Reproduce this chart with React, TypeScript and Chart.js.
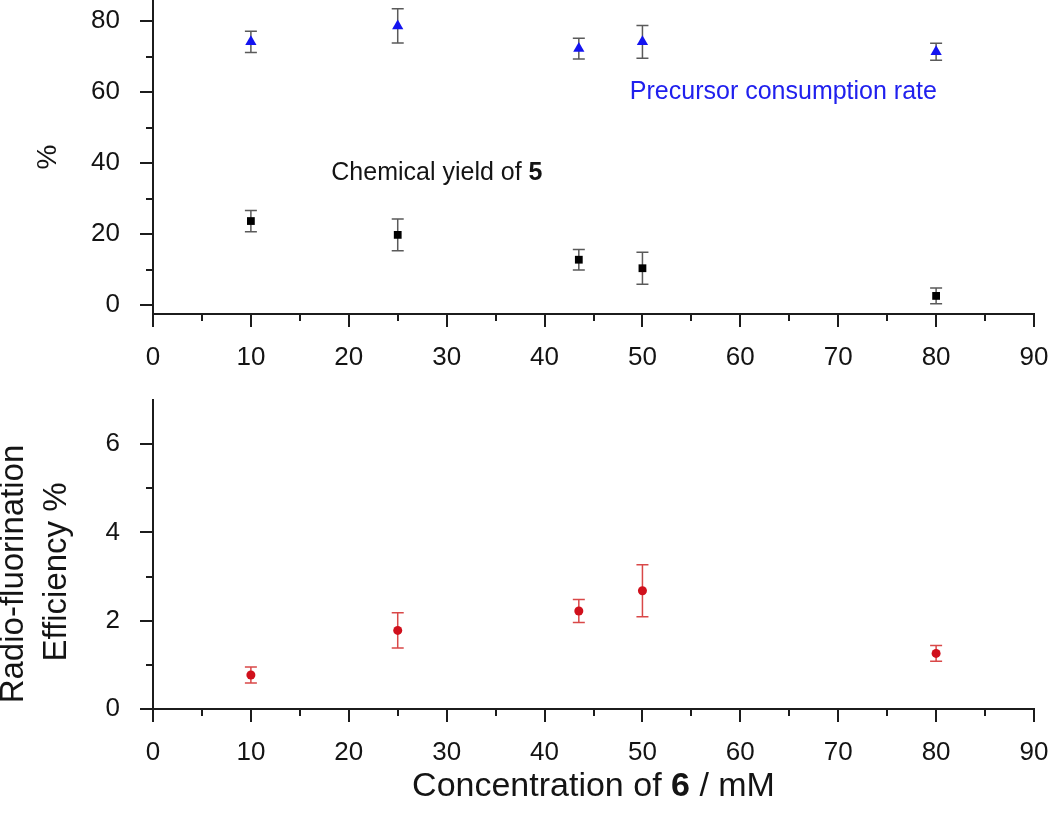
import React, { useEffect, useRef } from 'react';
import { Chart, registerables } from 'chart.js';

Chart.register(...registerables);

// ---- data ----
const concentration = [10, 25, 43.5, 50, 80];
const consumptionRate = [74.2, 78.7, 72.3, 74.2, 71.4];
const consumptionErr = [3.0, 4.8, 2.9, 4.6, 2.4];
const chemicalYield = [23.7, 19.8, 12.8, 10.4, 2.6];
const chemicalYieldErr = [3.0, 4.5, 2.9, 4.5, 2.2];
const efficiency = [0.77, 1.78, 2.22, 2.68, 1.26];
const efficiencyErr = [0.18, 0.4, 0.26, 0.59, 0.18];

const xMajorTicks = [0, 10, 20, 30, 40, 50, 60, 70, 80, 90];
const xMinorTicks = [5, 15, 25, 35, 45, 55, 65, 75, 85];
const topYMajorTicks = [0, 20, 40, 60, 80];
const topYMinorTicks = [10, 30, 50, 70];
const bottomYMajorTicks = [0, 2, 4, 6];
const bottomYMinorTicks = [1, 3, 5];

const FONT = '"Liberation Sans", Arial, Helvetica, sans-serif';
const AXIS_COLOR = '#1c1c1c';
const TEXT_COLOR = '#141414';

type Seg = { t: string; bold?: boolean };

function drawSegments(ctx: CanvasRenderingContext2D, segs: Seg[], cx: number, cy: number, size: number, color: string) {
  ctx.save();
  ctx.fillStyle = color;
  ctx.textBaseline = 'middle';
  ctx.textAlign = 'left';
  let total = 0;
  const widths = segs.map((s) => {
    ctx.font = `${s.bold ? 'bold ' : ''}${size}px ${FONT}`;
    const w = ctx.measureText(s.t).width;
    total += w;
    return w;
  });
  let x = cx - total / 2;
  segs.forEach((s, i) => {
    ctx.font = `${s.bold ? 'bold ' : ''}${size}px ${FONT}`;
    ctx.fillText(s.t, x, cy);
    x += widths[i];
  });
  ctx.restore();
}

function makeDecor(cfg: any) {
  return {
    id: 'decor',
    beforeDatasetsDraw(chart: any) {
      const ctx = chart.ctx;
      const xs = chart.scales.x;
      const ys = chart.scales.y;
      chart.data.datasets.forEach((ds: any) => {
        if (!ds.errors) return;
        ctx.save();
        ctx.strokeStyle = ds.errorColor;
        ctx.lineWidth = 1.5;
        ds.data.forEach((p: any, i: number) => {
          const e = ds.errors[i];
          const px = xs.getPixelForValue(p.x);
          const y1 = ys.getPixelForValue(p.y + e);
          const y2 = ys.getPixelForValue(p.y - e);
          ctx.beginPath();
          ctx.moveTo(px, y1);
          ctx.lineTo(px, y2);
          ctx.moveTo(px - 6, y1);
          ctx.lineTo(px + 6, y1);
          ctx.moveTo(px - 6, y2);
          ctx.lineTo(px + 6, y2);
          ctx.stroke();
        });
        ctx.restore();
      });
    },
    afterDraw(chart: any) {
      const ctx = chart.ctx;
      const xs = chart.scales.x;
      const ys = chart.scales.y;
      const area = chart.chartArea;
      ctx.save();
      ctx.strokeStyle = AXIS_COLOR;
      ctx.lineWidth = 2;
      ctx.beginPath();
      cfg.xMajor.forEach((v: number) => {
        const px = Math.round(xs.getPixelForValue(v));
        ctx.moveTo(px, area.bottom);
        ctx.lineTo(px, area.bottom + 13);
      });
      cfg.xMinor.forEach((v: number) => {
        const px = Math.round(xs.getPixelForValue(v));
        ctx.moveTo(px, area.bottom);
        ctx.lineTo(px, area.bottom + 7);
      });
      cfg.yMajor.forEach((v: number) => {
        const py = Math.round(ys.getPixelForValue(v));
        ctx.moveTo(area.left, py);
        ctx.lineTo(area.left - 13, py);
      });
      cfg.yMinor.forEach((v: number) => {
        const py = Math.round(ys.getPixelForValue(v));
        ctx.moveTo(area.left, py);
        ctx.lineTo(area.left - 7, py);
      });
      ctx.stroke();
      ctx.restore();

      // annotations in data coordinates
      (cfg.notes || []).forEach((n: any) => {
        drawSegments(ctx, n.segs, xs.getPixelForValue(n.x), ys.getPixelForValue(n.y), n.size, n.color);
      });

      // y-axis title lines (rotated)
      (cfg.yTitle || []).forEach((l: any) => {
        ctx.save();
        ctx.translate(l.x, l.y);
        ctx.rotate(-Math.PI / 2);
        ctx.font = `${l.size}px ${FONT}`;
        ctx.fillStyle = TEXT_COLOR;
        ctx.textAlign = 'center';
        ctx.textBaseline = 'middle';
        ctx.fillText(l.t, 0, 0);
        ctx.restore();
      });

      if (cfg.xTitle) {
        drawSegments(ctx, cfg.xTitle.segs, (area.left + area.right) / 2, cfg.xTitle.y, cfg.xTitle.size, TEXT_COLOR);
      }
    },
  };
}

function makeOptions(yMin: number, yMax: number, yTicks: number[], xHeight: number, topPad: number) {
  return {
    responsive: false,
    animation: false,
    devicePixelRatio: 1,
    layout: { autoPadding: false, padding: { left: 0, right: 16, top: topPad, bottom: 0 } },
    plugins: { legend: { display: false }, tooltip: { enabled: false } },
    scales: {
      x: {
        type: 'linear',
        position: 'bottom',
        min: 0,
        max: 90,
        grid: { display: false, drawTicks: false },
        border: { display: true, color: AXIS_COLOR, width: 2 },
        afterBuildTicks: (s: any) => {
          s.ticks = xMajorTicks.map((v) => ({ value: v }));
        },
        ticks: {
          padding: 28,
          autoSkip: false,
          maxRotation: 0,
          color: TEXT_COLOR,
          font: { family: FONT, size: 26 },
        },
        afterFit: (s: any) => {
          s.height = xHeight;
          s.paddingLeft = 0;
          s.paddingRight = 0;
        },
      },
      y: {
        type: 'linear',
        position: 'left',
        min: yMin,
        max: yMax,
        grid: { display: false, drawTicks: false },
        border: { display: true, color: AXIS_COLOR, width: 2 },
        afterBuildTicks: (s: any) => {
          s.ticks = yTicks.map((v) => ({ value: v }));
        },
        ticks: {
          padding: 33,
          color: TEXT_COLOR,
          font: { family: FONT, size: 26 },
        },
        afterFit: (s: any) => {
          s.width = 153;
          s.paddingTop = 0;
          s.paddingBottom = 0;
        },
      },
    },
  };
}

export default function App() {
  const topRef = useRef<HTMLCanvasElement>(null);
  const bottomRef = useRef<HTMLCanvasElement>(null);

  useEffect(() => {
    const top = new Chart(topRef.current as HTMLCanvasElement, {
      type: 'scatter',
      data: {
        datasets: [
          {
            label: 'Precursor consumption rate',
            data: concentration.map((x, i) => ({ x, y: consumptionRate[i] })),
            pointStyle: 'triangle',
            pointRadius: 6.5,
            backgroundColor: '#1414f0',
            borderColor: '#1414f0',
            borderWidth: 0,
            showLine: false,
            errors: consumptionErr,
            errorColor: '#5a5a5a',
          } as any,
          {
            label: 'Chemical yield of 5',
            data: concentration.map((x, i) => ({ x, y: chemicalYield[i] })),
            pointStyle: 'rect',
            pointRadius: 5.5,
            backgroundColor: '#000000',
            borderColor: '#000000',
            borderWidth: 0,
            showLine: false,
            errors: chemicalYieldErr,
            errorColor: '#5a5a5a',
          } as any,
        ],
      },
      options: makeOptions(-2.5, 86, topYMajorTicks, 76, 0) as any,
      plugins: [
        makeDecor({
          xMajor: xMajorTicks,
          xMinor: xMinorTicks,
          yMajor: topYMajorTicks,
          yMinor: topYMinorTicks,
          notes: [
            { segs: [{ t: 'Chemical yield of ' }, { t: '5', bold: true }], x: 29.0, y: 37.3, size: 25, color: TEXT_COLOR },
            { segs: [{ t: 'Precursor consumption rate' }], x: 64.4, y: 59.9, size: 25, color: '#2020ee' },
          ],
          yTitle: [{ t: '%', x: 48, y: 157, size: 28 }],
        }),
      ],
    });

    const bottom = new Chart(bottomRef.current as HTMLCanvasElement, {
      type: 'scatter',
      data: {
        datasets: [
          {
            label: 'Radio-fluorination Efficiency %',
            data: concentration.map((x, i) => ({ x, y: efficiency[i] })),
            pointStyle: 'circle',
            pointRadius: 4.5,
            backgroundColor: '#d0101c',
            borderColor: '#d0101c',
            borderWidth: 0,
            showLine: false,
            errors: efficiencyErr,
            errorColor: '#d94848',
          } as any,
        ],
      },
      options: makeOptions(0, 7, bottomYMajorTicks, 106, 10) as any,
      plugins: [
        makeDecor({
          xMajor: xMajorTicks,
          xMinor: xMinorTicks,
          yMajor: bottomYMajorTicks,
          yMinor: bottomYMinorTicks,
          yTitle: [
            { t: 'Radio-fluorination', x: 14, y: 184, size: 33 },
            { t: 'Efficiency %', x: 57, y: 182, size: 33 },
          ],
          xTitle: { segs: [{ t: 'Concentration of ' }, { t: '6', bold: true }, { t: ' / mM' }], y: 397, size: 34 },
        }),
      ],
    });

    return () => {
      top.destroy();
      bottom.destroy();
    };
  }, []);

  return (
    <div style={{ position: 'absolute', left: 0, top: 0, width: 1050, height: 815, background: '#fff' }}>
      <canvas ref={topRef} width={1050} height={390} style={{ display: 'block', width: 1050, height: 390 }} />
      <canvas ref={bottomRef} width={1050} height={425} style={{ display: 'block', width: 1050, height: 425 }} />
    </div>
  );
}
